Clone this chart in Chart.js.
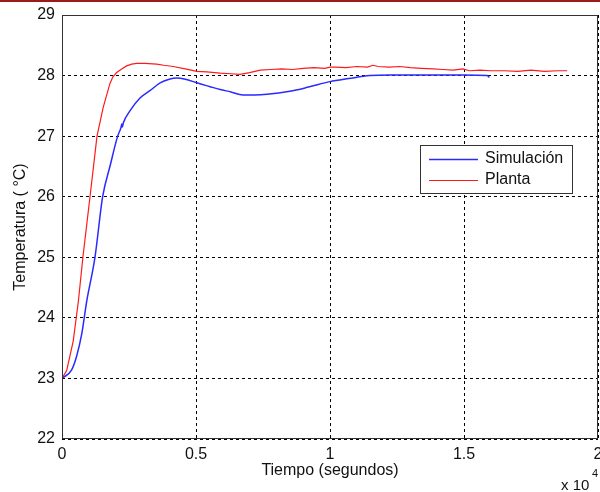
<!DOCTYPE html>
<html>
<head>
<meta charset="utf-8">
<script src="https://cdn.jsdelivr.net/npm/chart.js@4/dist/chart.umd.min.js"></script>
<style>
  html, body { margin: 0; padding: 0; background: #fff; }
  #wrap { width: 600px; height: 492px; }
</style>
</head>
<body>
<div id="wrap"><canvas id="myChart" width="600" height="492"></canvas></div>
<script>
// respuesta de temperatura: simulación vs planta real
var simTime = [0, 360, 548, 735, 920, 1230, 1517, 1800, 2077, 2200, 2230, 2250, 2290, 2540, 2910, 3280, 3660, 4000, 4280, 4600, 5030, 5500, 5900, 6300, 6750, 7200, 7650, 8500, 9200, 10000, 10700, 11490, 12240, 13000, 14100, 15000, 15860, 15950];
var simTemp = [23, 23.14, 23.37, 23.73, 24.27, 25, 26, 26.52, 27, 27.14, 27.2, 27.15, 27.22, 27.42, 27.63, 27.75, 27.88, 27.94, 27.96, 27.94, 27.88, 27.82, 27.77, 27.73, 27.68, 27.68, 27.69, 27.74, 27.81, 27.9, 27.95, 28.0, 28.01, 28.01, 28.01, 28.01, 28.0, 27.97];

var plantTime = [0, 175, 420, 610, 780, 1045, 1306, 1540, 1790, 1900, 2040, 2200, 2410, 2600, 2790, 3100, 3530, 3800, 4150, 4600, 5030, 5400, 5900, 6300, 6640, 7000, 7400, 7800, 8200, 8600, 9000, 9400, 9800, 10000, 10200, 10600, 11000, 11400, 11600, 11800, 12200, 12600, 13000, 13400, 13850, 14200, 14600, 14960, 15200, 15600, 16000, 16500, 17000, 17500, 18000, 18500, 18850];
var plantTemp = [23, 23.13, 23.62, 24.27, 25, 26, 27, 27.48, 27.87, 27.98, 28.05, 28.1, 28.16, 28.19, 28.2, 28.2, 28.19, 28.17, 28.15, 28.11, 28.07, 28.06, 28.04, 28.03, 28.02, 28.05, 28.09, 28.1, 28.11, 28.1, 28.12, 28.13, 28.12, 28.14, 28.14, 28.13, 28.15, 28.14, 28.17, 28.15, 28.14, 28.15, 28.13, 28.12, 28.11, 28.1, 28.09, 28.11, 28.08, 28.09, 28.08, 28.08, 28.07, 28.09, 28.07, 28.08, 28.08];

var xTicks = [0, 5000, 10000, 15000, 20000];
var yTicks = [22, 23, 24, 25, 26, 27, 28, 29];

var FONT = 'Liberation Sans, Arial, sans-serif';

function toPoints(xs, ys) {
    var pts = [];
    xs.forEach(function (x, i) { pts.push({x: x, y: ys[i]}); });
    return pts;
}

// marco, leyenda y textos al estilo MATLAB
var decor = {
    id: 'decor',
    afterDraw: function (chart) {
        var ctx = chart.ctx;
        var a = chart.chartArea;
        ctx.save();

        // franja superior
        ctx.fillStyle = '#9b1b1b';
        ctx.fillRect(0, 0, 600, 2);

        // caja de ejes
        ctx.strokeStyle = '#333';
        ctx.lineWidth = 1;
        ctx.strokeRect(a.left + 0.5, a.top + 0.5, a.right - a.left - 1, a.bottom - a.top - 1);

        // títulos de ejes
        ctx.fillStyle = '#111';
        ctx.font = '16px ' + FONT;
        ctx.textAlign = 'center';
        ctx.textBaseline = 'middle';
        ctx.fillText('Tiempo (segundos)', (a.left + a.right) / 2, 471);
        ctx.save();
        ctx.translate(21, (a.top + a.bottom) / 2);
        ctx.rotate(-Math.PI / 2);
        ctx.fillText('Temperatura ( \u00B0C)', 0, 0);
        ctx.restore();

        // factor de escala del eje x
        ctx.textAlign = 'left';
        ctx.textBaseline = 'alphabetic';
        ctx.font = '15px ' + FONT;
        ctx.fillText('x 10', 561, 490);
        ctx.font = '11px ' + FONT;
        ctx.fillText('4', 592, 477);

        // leyenda
        var lx = 420, ly = 145, lw = 152, lh = 48;
        ctx.fillStyle = '#fff';
        ctx.fillRect(lx, ly, lw, lh);
        ctx.strokeStyle = '#333';
        ctx.strokeRect(lx + 0.5, ly + 0.5, lw, lh);
        ctx.font = '16px ' + FONT;
        ctx.textBaseline = 'middle';
        chart.data.datasets.forEach(function (ds, i) {
            var y = ly + 14 + i * 21;
            ctx.strokeStyle = ds.borderColor;
            ctx.lineWidth = ds.borderWidth;
            ctx.beginPath();
            ctx.moveTo(429, y + 0.5);
            ctx.lineTo(478, y + 0.5);
            ctx.stroke();
            ctx.fillStyle = '#111';
            ctx.fillText(ds.label, 485, y);
        });
        ctx.restore();
    }
};

var ctx = document.getElementById('myChart').getContext('2d');
var myChart = new Chart(ctx, {
    type: 'line',
    data: {
        datasets: [
            {
                label: 'Simulación',
                data: toPoints(simTime, simTemp),
                borderColor: '#2a2aff',
                borderWidth: 1.5,
                pointRadius: 0,
                cubicInterpolationMode: 'monotone',
                fill: false
            },
            {
                label: 'Planta',
                data: toPoints(plantTime, plantTemp),
                borderColor: '#ff1a1a',
                borderWidth: 1.2,
                pointRadius: 0,
                tension: 0,
                fill: false
            }
        ]
    },
    options: {
        responsive: false,
        animation: false,
        layout: { padding: { top: 15, right: 2, left: 0, bottom: 0 } },
        plugins: {
            legend: { display: false },
            tooltip: { enabled: false }
        },
        scales: {
            x: {
                type: 'linear',
                min: 0,
                max: 20000,
                afterBuildTicks: function (scale) {
                    scale.ticks = xTicks.map(function (v) { return {value: v}; });
                },
                afterFit: function (scale) {
                    scale.height = 53;
                    scale.paddingLeft = 0;
                    scale.paddingRight = 0;
                },
                ticks: {
                    color: '#111',
                    font: { family: FONT, size: 16 },
                    padding: 6,
                    maxRotation: 0,
                    callback: function (v) { return String(v / 10000); }
                },
                grid: { color: '#000', lineWidth: 1, drawTicks: false },
                border: { display: false, dash: [3, 3] }
            },
            y: {
                min: 22,
                max: 29,
                afterBuildTicks: function (scale) {
                    scale.ticks = yTicks.map(function (v) { return {value: v}; });
                },
                afterFit: function (scale) {
                    scale.width = 62;
                    scale.paddingTop = 0;
                    scale.paddingBottom = 0;
                },
                ticks: {
                    color: '#111',
                    font: { family: FONT, size: 16 },
                    padding: 7
                },
                grid: { color: '#000', lineWidth: 1, drawTicks: false },
                border: { display: false, dash: [3, 3] }
            }
        }
    },
    plugins: [decor]
});
</script>
</body>
</html>
